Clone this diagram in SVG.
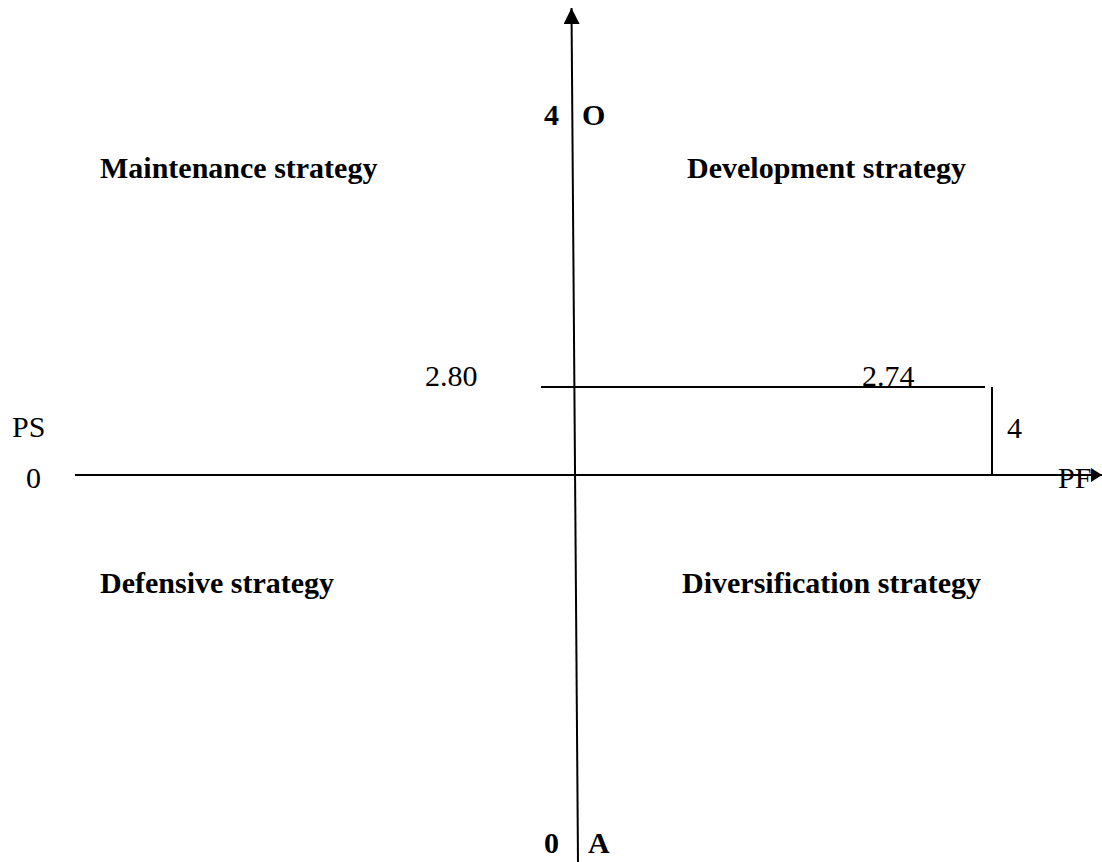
<svg xmlns="http://www.w3.org/2000/svg" width="1102" height="862" viewBox="0 0 1102 862">
  <defs>
    <style>
      .t { font-family: "Liberation Serif", "Times New Roman", serif; font-size: 30px; fill: #000; }
      .b { font-weight: bold; }
      .ln { stroke: #000; stroke-width: 2; fill: none; }
    </style>
    <marker id="arr" viewBox="0 0 11 14" refX="11" refY="7" markerWidth="11" markerHeight="14" markerUnits="userSpaceOnUse" orient="auto">
      <path d="M0,0 L11,7 L0,14 Z" fill="#000"/>
    </marker>
    <marker id="arrUp" viewBox="0 0 16 16" refX="16" refY="8" markerWidth="16" markerHeight="16" markerUnits="userSpaceOnUse" orient="auto">
      <path d="M0,0 L16,8 L0,16 Z" fill="#000"/>
    </marker>
  </defs>
  <rect width="1102" height="862" fill="#fff"/>

  <g id="connectors">
    <!-- vertical axis (O / A) -->
    <line class="ln" x1="578" y1="862" x2="571.5" y2="8" marker-end="url(#arrUp)"/>
    <!-- horizontal axis (PS / PF) -->
    <line class="ln" x1="75" y1="475" x2="1102" y2="475" marker-end="url(#arr)"/>
    <!-- result lines -->
    <line class="ln" x1="541" y1="387" x2="985" y2="387"/>
    <line class="ln" x1="992" y1="387" x2="992" y2="476"/>
  </g>

  <g id="quadrant-maintenance"><text class="t b" x="100" y="178">Maintenance strategy</text></g>
  <g id="quadrant-development"><text class="t b" x="687" y="178">Development strategy</text></g>
  <g id="quadrant-defensive"><text class="t b" x="100" y="593">Defensive strategy</text></g>
  <g id="quadrant-diversification"><text class="t b" x="682" y="593">Diversification strategy</text></g>

  <g id="axis-labels">
    <text class="t b" x="544" y="125">4</text>
    <text class="t b" x="582" y="125">O</text>
    <text class="t b" x="544" y="853">0</text>
    <text class="t b" x="588" y="853">A</text>
    <text class="t" x="12" y="437">PS</text>
    <text class="t" x="26" y="488">0</text>
    <text class="t" x="1058" y="488">PF</text>
  </g>

  <g id="values">
    <text class="t" x="425" y="386">2.80</text>
    <text class="t" x="862" y="386">2.74</text>
    <text class="t" x="1007" y="438">4</text>
  </g>
</svg>
